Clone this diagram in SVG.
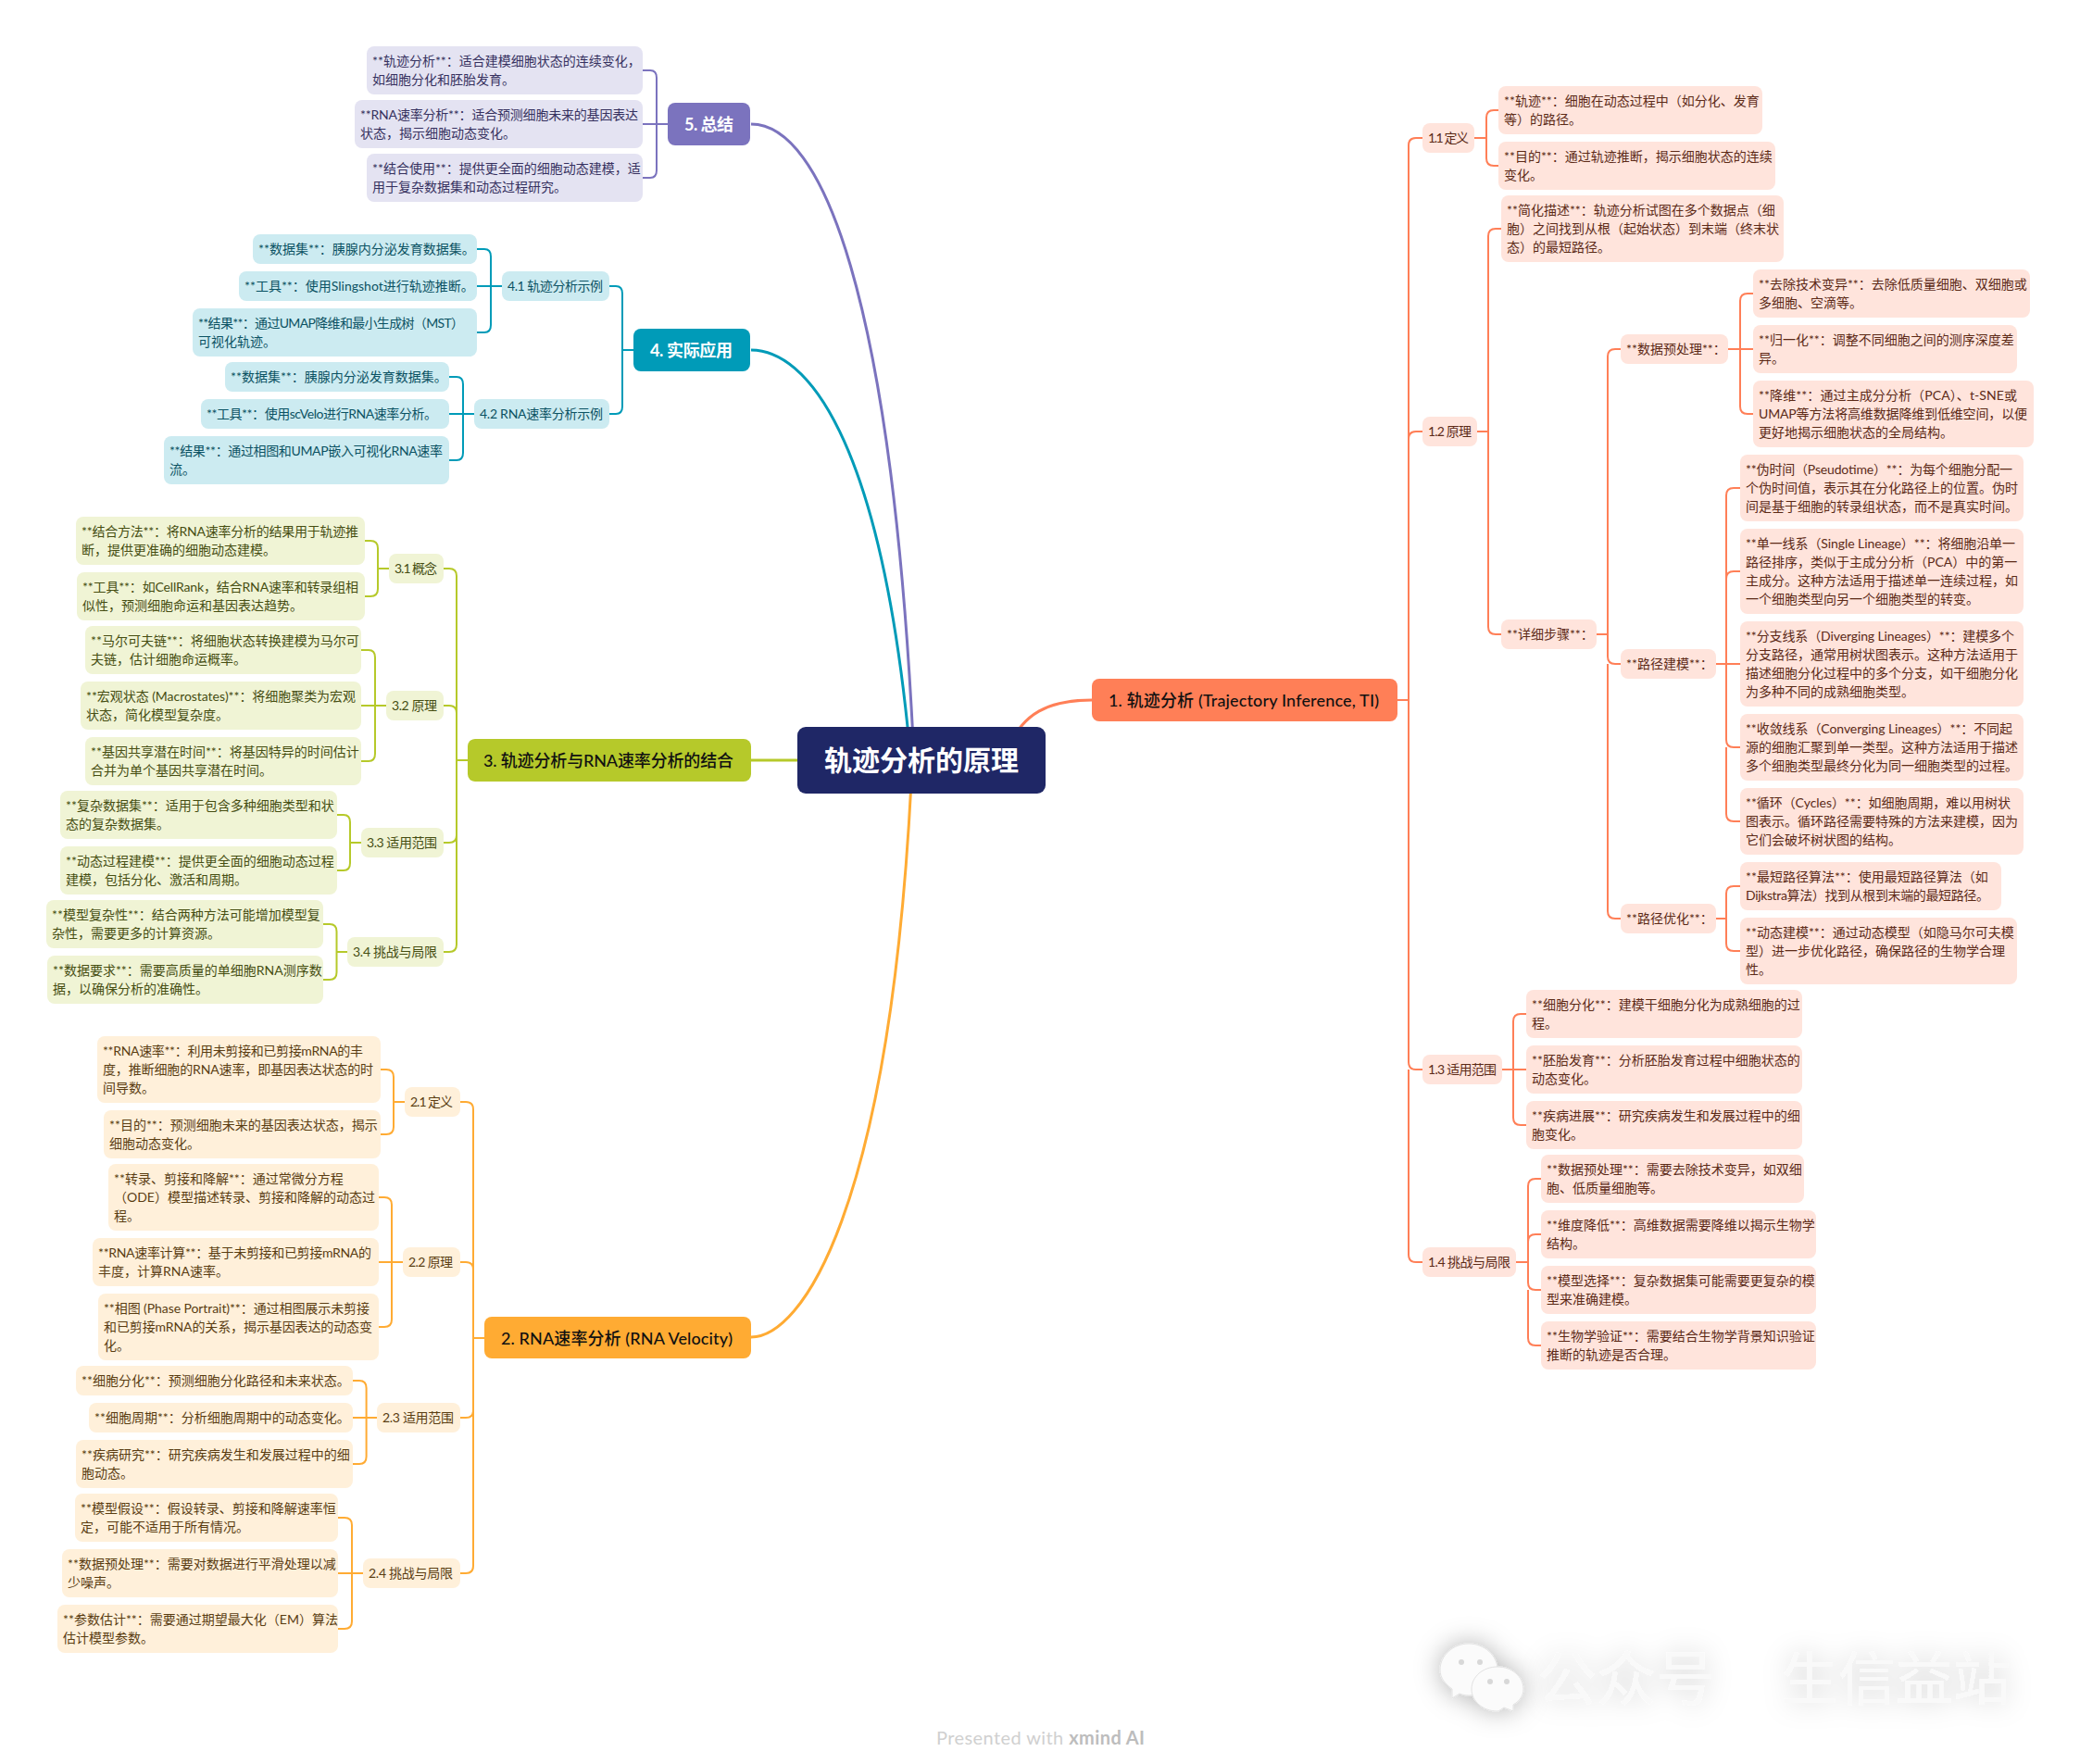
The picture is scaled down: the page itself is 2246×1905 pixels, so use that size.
<svg xmlns="http://www.w3.org/2000/svg" width="2246" height="1905" viewBox="0 0 2246 1905">
<style>
text{font-family:Lato,"Noto Sans CJK SC","Noto Sans",sans-serif;font-size:14px}
.c path{fill:none;stroke-width:2}
.c path.m{stroke-width:3}
.c1 path{stroke:#FF7F57}.c2 path{stroke:#FFAB33}.c3 path{stroke:#B6C92A}.c4 path{stroke:#009BB8}.c5 path{stroke:#7B73BE}
.n1 rect{fill:#FFE4DC}.n1 text{fill:#5C2A17}
.n2 rect{fill:#FFF0DA}.n2 text{fill:#5A3D12}
.n3 rect{fill:#F0F4D5}.n3 text{fill:#464E12}
.n4 rect{fill:#CCEBF1}.n4 text{fill:#0B5263}
.n5 rect{fill:#E4E3F2}.n5 text{fill:#36315F}
.m1 rect{fill:#FF7F57}.m2 rect{fill:#FFAB33}.m3 rect{fill:#B6C92A}.m4 rect{fill:#009BB8}.m5 rect{fill:#7B73BE}
.m1 text,.m2 text,.m3 text{fill:#111;font-size:18px;font-weight:500}
.m4 text,.m5 text{fill:#fff;font-size:18px;font-weight:700}
#root rect{fill:#1F2766}
#root text{fill:#fff;font-size:30px;font-weight:700;text-anchor:middle}
.wm{fill:#f9f9f9;font-size:64px;font-weight:400}
.pw{fill:#d0d0d0;font-size:20px}
.pw tspan{fill:#bdbdbd;font-weight:700}
</style>
<defs>
<filter id="ws" x="-30%" y="-60%" width="160%" height="220%"><feDropShadow dx="0" dy="0" stdDeviation="14" flood-color="#000" flood-opacity=".2"/></filter>
<filter id="wi" x="-60%" y="-60%" width="220%" height="220%"><feDropShadow dx="0" dy="0" stdDeviation="14" flood-color="#000" flood-opacity=".3"/></filter>
</defs>
<g id="watermark">
<g filter="url(#wi)" fill="#fbfbfb" stroke="#e2e2e2" stroke-width="1">
<path d="M1568 1834V1824C1560 1818 1555 1812 1555 1803C1555 1788 1569 1775 1586 1775C1603 1775 1617 1788 1617 1803C1617 1819 1603 1831 1586 1831C1582 1831 1579 1830 1576 1829Z"/>
<path d="M1634 1848L1624 1844C1622 1845 1619 1848 1617 1848C1601 1848 1589 1837 1589 1824C1589 1811 1601 1800 1617 1800C1633 1800 1645 1811 1645 1824C1645 1831 1641 1837 1634 1841Z"/>
<g fill="#d8d8d8" stroke="none"><circle cx="1578" cy="1795" r="3"/><circle cx="1598" cy="1795" r="3"/><circle cx="1609" cy="1816" r="3"/><circle cx="1627" cy="1816" r="3"/></g>
</g>
<g filter="url(#ws)">
<text class="wm" x="1660" y="1836">公众号</text>
<text class="wm" x="1923" y="1836" style="font-size:62px">生信益站</text>
</g>
</g>
<text class="pw" x="1011" y="1884" textLength="225">Presented with <tspan>xmind AI</tspan></text>

<g id="connectors" class="c">
<g class="c1">
<path class="m" d="M1179 756C1130 756 1105 772 1090 805"/>
<path d="M1509 756H1521M1521 756V157Q1521 149 1529 149H1536M1521 474Q1521 466 1529 466H1536M1521 756V1147Q1521 1155 1529 1155H1536M1521 1155V1355Q1521 1363 1529 1363H1536"/>
<path d="M1592 149H1605M1605 149V127Q1605 119 1613 119H1618M1605 149V171Q1605 179 1613 179H1618"/>
<path d="M1595 466H1607M1607 466V255Q1607 247 1615 247H1621M1607 466V677Q1607 685 1615 685H1621"/>
<path d="M1724 685H1736M1736 685V385Q1736 377 1744 377H1750M1736 685V709Q1736 717 1744 717H1750M1736 717V984Q1736 992 1744 992H1750"/>
<path d="M1866 377H1893M1879 377V325Q1879 317 1887 317H1893M1879 377V439Q1879 447 1887 447H1893"/>
<path d="M1853 717H1879M1864 717V535Q1864 527 1872 527H1879M1864 625Q1864 617 1872 617H1879M1864 717V799Q1864 807 1872 807H1879M1864 807V879Q1864 887 1872 887H1879"/>
<path d="M1853 992H1864M1864 992V965Q1864 957 1872 957H1879M1864 992V1019Q1864 1027 1872 1027H1879"/>
<path d="M1621.500 1155H1648M1634 1155V1103Q1634 1095 1642 1095H1648M1634 1155V1207Q1634 1215 1642 1215H1648"/>
<path d="M1636.500 1363H1650M1650 1363V1281Q1650 1273 1658 1273H1664M1650 1341Q1650 1333 1658 1333H1664M1650 1363V1385Q1650 1393 1658 1393H1664M1650 1393V1445Q1650 1453 1658 1453H1664"/>
</g>
<g class="c2">
<path class="m" d="M811 1444C865 1444 960 1310 984 845"/>
<path d="M523 1445H511M511 1445V1198Q511 1190 503 1190H497M511 1371Q511 1363 503 1363H497M511 1523Q511 1531 503 1531H497M511 1445V1691Q511 1699 503 1699H497"/>
<path d="M437 1190H425M425 1190V1163Q425 1155 417 1155H411M425 1190V1217Q425 1225 417 1225H411"/>
<path d="M435 1363H409M423 1363V1301Q423 1293 415 1293H409M423 1363V1425Q423 1433 415 1433H409"/>
<path d="M407 1531H381M395.600 1531V1499Q395.600 1491 388 1491H381M395.600 1531V1573Q395.600 1581 388 1581H381"/>
<path d="M392 1699H365M380 1699V1647Q380 1639 372 1639H365M380 1699V1751Q380 1759 372 1759H365"/>
</g>
<g class="c3">
<path class="m" d="M861 821H811"/>
<path d="M505 821H493M493 821V622Q493 614 485 614H479M493 770Q493 762 485 762H479M493 821V902Q493 910 485 910H479M493 821V1020Q493 1028 485 1028H479"/>
<path d="M420 614H408M408 614V592Q408 584 400 584H394M408 614V636Q408 644 400 644H394"/>
<path d="M417 762H390M405 762V710Q405 702 398 702H390M405 762V814Q405 822 398 822H390"/>
<path d="M390 910H378M378 910V888Q378 880 371 880H364M378 910V932Q378 940 371 940H364"/>
<path d="M375 1028H363M363.500 1028V1006Q363.500 998 356 998H349M363.500 1028V1050Q363.500 1058 356 1058H349"/>
</g>
<g class="c4">
<path class="m" d="M811 378C870 378 950 470 982 805"/>
<path d="M684 378H672M672 378V317Q672 309 665 309H658M672 378V439Q672 447 665 447H658"/>
<path d="M542 309H515M530 309V277Q530 269 523 269H515M530 309V351Q530 359 523 359H515"/>
<path d="M512 447H485M500 447V415Q500 407 493 407H485M500 447V489Q500 497 493 497H485"/>
</g>
<g class="c5">
<path class="m" d="M811 134C888 134 962 320 986 800"/>
<path d="M721 134H694M709 134V84Q709 76 702 76H694M709 134V184Q709 192 702 192H694"/>
</g>
</g>

<g id="root"><rect x="861" y="785" width="268" height="72" rx="9"/><text x="995" y="832">轨迹分析的原理</text></g>

<g id="n1" class="m1"><rect x="1179" y="733" width="330" height="46" rx="8"/><text x="1197" y="763" textLength="292">1. 轨迹分析 (Trajectory Inference, TI)</text></g>
<g class="n1">
<g id="n1-1"><rect x="1536" y="133" width="56" height="32" rx="8"/><text x="1542" y="154" textLength="44">1.1 定义</text></g>
<g id="n1-1-1"><rect x="1618" y="93" width="285" height="52" rx="8"/><text x="1624" y="114">**轨迹**：细胞在动态过程中（如分化、发育</text><text x="1624" y="134">等）的路径。</text></g>
<g id="n1-1-2"><rect x="1618" y="153" width="299" height="52" rx="8"/><text x="1624" y="174">**目的**：通过轨迹推断，揭示细胞状态的连续</text><text x="1624" y="194">变化。</text></g>
<g id="n1-2"><rect x="1536" y="450" width="59" height="32" rx="8"/><text x="1542" y="471" textLength="47">1.2 原理</text></g>
<g id="n1-2-1"><rect x="1621" y="211" width="305" height="72" rx="8"/><text x="1627" y="232">**简化描述**：轨迹分析试图在多个数据点（细</text><text x="1627" y="252">胞）之间找到从根（起始状态）到末端（终末状</text><text x="1627" y="272">态）的最短路径。</text></g>
<g id="n1-2-2"><rect x="1621" y="669" width="103" height="32" rx="8"/><text x="1627" y="690">**详细步骤**：</text></g>
<g id="n1-2-2-1"><rect x="1750" y="361" width="116" height="32" rx="8"/><text x="1756" y="382">**数据预处理**：</text></g>
<g id="n1-2-2-1-1"><rect x="1893" y="291" width="299" height="52" rx="8"/><text x="1899" y="312">**去除技术变异**：去除低质量细胞、双细胞或</text><text x="1899" y="332">多细胞、空滴等。</text></g>
<g id="n1-2-2-1-2"><rect x="1893" y="351" width="285" height="52" rx="8"/><text x="1899" y="372">**归一化**：调整不同细胞之间的测序深度差</text><text x="1899" y="392">异。</text></g>
<g id="n1-2-2-1-3"><rect x="1893" y="411" width="303" height="72" rx="8"/><text x="1899" y="432" textLength="279">**降维**：通过主成分分析（PCA）、t-SNE或</text><text x="1899" y="452" textLength="290">UMAP等方法将高维数据降维到低维空间，以便</text><text x="1899" y="472">更好地揭示细胞状态的全局结构。</text></g>
<g id="n1-2-2-2"><rect x="1750" y="701" width="103" height="32" rx="8"/><text x="1756" y="722">**路径建模**：</text></g>
<g id="n1-2-2-2-1"><rect x="1879" y="491" width="306" height="72" rx="8"/><text x="1885" y="512" textLength="288">**伪时间（Pseudotime）**：为每个细胞分配一</text><text x="1885" y="532">个伪时间值，表示其在分化路径上的位置。伪时</text><text x="1885" y="552">间是基于细胞的转录组状态，而不是真实时间。</text></g>
<g id="n1-2-2-2-2"><rect x="1879" y="571" width="306" height="92" rx="8"/><text x="1885" y="592" textLength="291">**单一线系（Single Lineage）**：将细胞沿单一</text><text x="1885" y="612">路径排序，类似于主成分分析（PCA）中的第一</text><text x="1885" y="632">主成分。这种方法适用于描述单一连续过程，如</text><text x="1885" y="652">一个细胞类型向另一个细胞类型的转变。</text></g>
<g id="n1-2-2-2-3"><rect x="1879" y="671" width="306" height="92" rx="8"/><text x="1885" y="692" textLength="290">**分支线系（Diverging Lineages）**：建模多个</text><text x="1885" y="712">分支路径，通常用树状图表示。这种方法适用于</text><text x="1885" y="732">描述细胞分化过程中的多个分支，如干细胞分化</text><text x="1885" y="752">为多种不同的成熟细胞类型。</text></g>
<g id="n1-2-2-2-4"><rect x="1879" y="771" width="306" height="72" rx="8"/><text x="1885" y="792" textLength="288">**收敛线系（Converging Lineages）**：不同起</text><text x="1885" y="812">源的细胞汇聚到单一类型。这种方法适用于描述</text><text x="1885" y="832">多个细胞类型最终分化为同一细胞类型的过程。</text></g>
<g id="n1-2-2-2-5"><rect x="1879" y="851" width="306" height="72" rx="8"/><text x="1885" y="872" textLength="286">**循环（Cycles）**：如细胞周期，难以用树状</text><text x="1885" y="892">图表示。循环路径需要特殊的方法来建模，因为</text><text x="1885" y="912">它们会破坏树状图的结构。</text></g>
<g id="n1-2-2-3"><rect x="1750" y="976" width="103" height="32" rx="8"/><text x="1756" y="997">**路径优化**：</text></g>
<g id="n1-2-2-3-1"><rect x="1879" y="931" width="282" height="52" rx="8"/><text x="1885" y="952">**最短路径算法**：使用最短路径算法（如</text><text x="1885" y="972" textLength="263">Dijkstra算法）找到从根到末端的最短路径。</text></g>
<g id="n1-2-2-3-2"><rect x="1879" y="991" width="299" height="72" rx="8"/><text x="1885" y="1012">**动态建模**：通过动态模型（如隐马尔可夫模</text><text x="1885" y="1032">型）进一步优化路径，确保路径的生物学合理</text><text x="1885" y="1052">性。</text></g>
<g id="n1-3"><rect x="1536" y="1139" width="86" height="32" rx="8"/><text x="1542" y="1160" textLength="74">1.3 适用范围</text></g>
<g id="n1-3-1"><rect x="1648" y="1069" width="298" height="52" rx="8"/><text x="1654" y="1090">**细胞分化**：建模干细胞分化为成熟细胞的过</text><text x="1654" y="1110">程。</text></g>
<g id="n1-3-2"><rect x="1648" y="1129" width="298" height="52" rx="8"/><text x="1654" y="1150">**胚胎发育**：分析胚胎发育过程中细胞状态的</text><text x="1654" y="1170">动态变化。</text></g>
<g id="n1-3-3"><rect x="1648" y="1189" width="298" height="52" rx="8"/><text x="1654" y="1210">**疾病进展**：研究疾病发生和发展过程中的细</text><text x="1654" y="1230">胞变化。</text></g>
<g id="n1-4"><rect x="1536" y="1347" width="101" height="32" rx="8"/><text x="1542" y="1368" textLength="89">1.4 挑战与局限</text></g>
<g id="n1-4-1"><rect x="1664" y="1247" width="284" height="52" rx="8"/><text x="1670" y="1268">**数据预处理**：需要去除技术变异，如双细</text><text x="1670" y="1288">胞、低质量细胞等。</text></g>
<g id="n1-4-2"><rect x="1664" y="1307" width="297" height="52" rx="8"/><text x="1670" y="1328">**维度降低**：高维数据需要降维以揭示生物学</text><text x="1670" y="1348">结构。</text></g>
<g id="n1-4-3"><rect x="1664" y="1367" width="297" height="52" rx="8"/><text x="1670" y="1388">**模型选择**：复杂数据集可能需要更复杂的模</text><text x="1670" y="1408">型来准确建模。</text></g>
<g id="n1-4-4"><rect x="1664" y="1427" width="297" height="52" rx="8"/><text x="1670" y="1448">**生物学验证**：需要结合生物学背景知识验证</text><text x="1670" y="1468">推断的轨迹是否合理。</text></g>
</g>

<g id="n2" class="m2"><rect x="523" y="1422" width="288" height="45" rx="8"/><text x="541" y="1452" textLength="250">2. RNA速率分析 (RNA Velocity)</text></g>
<g class="n2">
<g id="n2-1"><rect x="437" y="1174" width="60" height="32" rx="8"/><text x="443" y="1195" textLength="46">2.1 定义</text></g>
<g id="n2-1-1"><rect x="105" y="1119" width="306" height="72" rx="8"/><text x="111" y="1140" textLength="281">**RNA速率**：利用未剪接和已剪接mRNA的丰</text><text x="111" y="1160" textLength="292">度，推断细胞的RNA速率，即基因表达状态的时</text><text x="111" y="1180">间导数。</text></g>
<g id="n2-1-2"><rect x="112" y="1199" width="299" height="52" rx="8"/><text x="118" y="1220">**目的**：预测细胞未来的基因表达状态，揭示</text><text x="118" y="1240">细胞动态变化。</text></g>
<g id="n2-2"><rect x="435" y="1347" width="62" height="32" rx="8"/><text x="441" y="1368" textLength="48">2.2 原理</text></g>
<g id="n2-2-1"><rect x="117" y="1257" width="292" height="72" rx="8"/><text x="123" y="1278">**转录、剪接和降解**：通过常微分方程</text><text x="123" y="1298">（ODE）模型描述转录、剪接和降解的动态过</text><text x="123" y="1318">程。</text></g>
<g id="n2-2-2"><rect x="100" y="1337" width="309" height="52" rx="8"/><text x="106" y="1358" textLength="295">**RNA速率计算**：基于未剪接和已剪接mRNA的</text><text x="106" y="1378">丰度，计算RNA速率。</text></g>
<g id="n2-2-3"><rect x="106" y="1397" width="303" height="72" rx="8"/><text x="112" y="1418" textLength="287">**相图 (Phase Portrait)**：通过相图展示未剪接</text><text x="112" y="1438" textLength="290">和已剪接mRNA的关系，揭示基因表达的动态变</text><text x="112" y="1458">化。</text></g>
<g id="n2-3"><rect x="407" y="1515" width="90" height="32" rx="8"/><text x="413" y="1536" textLength="77">2.3 适用范围</text></g>
<g id="n2-3-1"><rect x="82" y="1475" width="299" height="32" rx="8"/><text x="88" y="1496">**细胞分化**：预测细胞分化路径和未来状态。</text></g>
<g id="n2-3-2"><rect x="96" y="1515" width="285" height="32" rx="8"/><text x="102" y="1536">**细胞周期**：分析细胞周期中的动态变化。</text></g>
<g id="n2-3-3"><rect x="82" y="1555" width="299" height="52" rx="8"/><text x="88" y="1576">**疾病研究**：研究疾病发生和发展过程中的细</text><text x="88" y="1596">胞动态。</text></g>
<g id="n2-4"><rect x="392" y="1683" width="105" height="32" rx="8"/><text x="398" y="1704" textLength="91">2.4 挑战与局限</text></g>
<g id="n2-4-1"><rect x="81" y="1613" width="284" height="52" rx="8"/><text x="87" y="1634">**模型假设**：假设转录、剪接和降解速率恒</text><text x="87" y="1654">定，可能不适用于所有情况。</text></g>
<g id="n2-4-2"><rect x="67" y="1673" width="298" height="52" rx="8"/><text x="73" y="1694">**数据预处理**：需要对数据进行平滑处理以减</text><text x="73" y="1714">少噪声。</text></g>
<g id="n2-4-3"><rect x="62" y="1733" width="303" height="52" rx="8"/><text x="68" y="1754">**参数估计**：需要通过期望最大化（EM）算法</text><text x="68" y="1774">估计模型参数。</text></g>
</g>

<g id="n3" class="m3"><rect x="505" y="798" width="306" height="46" rx="8"/><text x="522" y="828" textLength="270">3. 轨迹分析与RNA速率分析的结合</text></g>
<g class="n3">
<g id="n3-1"><rect x="420" y="598" width="59" height="32" rx="8"/><text x="426" y="619" textLength="46">3.1 概念</text></g>
<g id="n3-1-1"><rect x="82" y="558" width="312" height="52" rx="8"/><text x="88" y="579" textLength="299">**结合方法**：将RNA速率分析的结果用于轨迹推</text><text x="88" y="599">断，提供更准确的细胞动态建模。</text></g>
<g id="n3-1-2"><rect x="83" y="618" width="311" height="52" rx="8"/><text x="89" y="639" textLength="298">**工具**：如CellRank，结合RNA速率和转录组相</text><text x="89" y="659">似性，预测细胞命运和基因表达趋势。</text></g>
<g id="n3-2"><rect x="417" y="746" width="62" height="32" rx="8"/><text x="423" y="767" textLength="49">3.2 原理</text></g>
<g id="n3-2-1"><rect x="92" y="676" width="298" height="52" rx="8"/><text x="98" y="697">**马尔可夫链**：将细胞状态转换建模为马尔可</text><text x="98" y="717">夫链，估计细胞命运概率。</text></g>
<g id="n3-2-2"><rect x="87" y="736" width="303" height="52" rx="8"/><text x="93" y="757" textLength="291">**宏观状态 (Macrostates)**：将细胞聚类为宏观</text><text x="93" y="777">状态，简化模型复杂度。</text></g>
<g id="n3-2-3"><rect x="92" y="796" width="298" height="52" rx="8"/><text x="98" y="817">**基因共享潜在时间**：将基因特异的时间估计</text><text x="98" y="837">合并为单个基因共享潜在时间。</text></g>
<g id="n3-3"><rect x="390" y="894" width="89" height="32" rx="8"/><text x="396" y="915" textLength="76">3.3 适用范围</text></g>
<g id="n3-3-1"><rect x="65" y="854" width="299" height="52" rx="8"/><text x="71" y="875">**复杂数据集**：适用于包含多种细胞类型和状</text><text x="71" y="895">态的复杂数据集。</text></g>
<g id="n3-3-2"><rect x="65" y="914" width="299" height="52" rx="8"/><text x="71" y="935">**动态过程建模**：提供更全面的细胞动态过程</text><text x="71" y="955">建模，包括分化、激活和周期。</text></g>
<g id="n3-4"><rect x="375" y="1012" width="104" height="32" rx="8"/><text x="381" y="1033" textLength="91">3.4 挑战与局限</text></g>
<g id="n3-4-1"><rect x="50" y="972" width="299" height="52" rx="8"/><text x="56" y="993">**模型复杂性**：结合两种方法可能增加模型复</text><text x="56" y="1013">杂性，需要更多的计算资源。</text></g>
<g id="n3-4-2"><rect x="51" y="1032" width="298" height="52" rx="8"/><text x="57" y="1053">**数据要求**：需要高质量的单细胞RNA测序数</text><text x="57" y="1073">据，以确保分析的准确性。</text></g>
</g>

<g id="n4" class="m4"><rect x="684" y="355" width="126" height="46" rx="8"/><text x="702" y="385" textLength="89">4. 实际应用</text></g>
<g class="n4">
<g id="n4-1"><rect x="542" y="293" width="116" height="32" rx="8"/><text x="548" y="314" textLength="103">4.1 轨迹分析示例</text></g>
<g id="n4-1-1"><rect x="273" y="253" width="242" height="32" rx="8"/><text x="279" y="274">**数据集**：胰腺内分泌发育数据集。</text></g>
<g id="n4-1-2"><rect x="258" y="293" width="257" height="32" rx="8"/><text x="264" y="314">**工具**：使用Slingshot进行轨迹推断。</text></g>
<g id="n4-1-3"><rect x="208" y="333" width="307" height="52" rx="8"/><text x="214" y="354" textLength="287">**结果**：通过UMAP降维和最小生成树（MST）</text><text x="214" y="374">可视化轨迹。</text></g>
<g id="n4-2"><rect x="512" y="431" width="146" height="32" rx="8"/><text x="518" y="452" textLength="133">4.2 RNA速率分析示例</text></g>
<g id="n4-2-1"><rect x="243" y="391" width="242" height="32" rx="8"/><text x="249" y="412">**数据集**：胰腺内分泌发育数据集。</text></g>
<g id="n4-2-2"><rect x="217" y="431" width="268" height="32" rx="8"/><text x="223" y="452" textLength="249">**工具**：使用scVelo进行RNA速率分析。</text></g>
<g id="n4-2-3"><rect x="177" y="471" width="308" height="52" rx="8"/><text x="183" y="492" textLength="295">**结果**：通过相图和UMAP嵌入可视化RNA速率</text><text x="183" y="512">流。</text></g>
</g>

<g id="n5" class="m5"><rect x="721" y="111" width="89" height="46" rx="8"/><text x="739" y="141" textLength="53">5. 总结</text></g>
<g class="n5">
<g id="n5-1"><rect x="396" y="50" width="298" height="52" rx="8"/><text x="402" y="71">**轨迹分析**：适合建模细胞状态的连续变化，</text><text x="402" y="91">如细胞分化和胚胎发育。</text></g>
<g id="n5-2"><rect x="383" y="108" width="311" height="52" rx="8"/><text x="389" y="129" textLength="300">**RNA速率分析**：适合预测细胞未来的基因表达</text><text x="389" y="149">状态，揭示细胞动态变化。</text></g>
<g id="n5-3"><rect x="396" y="166" width="298" height="52" rx="8"/><text x="402" y="187">**结合使用**：提供更全面的细胞动态建模，适</text><text x="402" y="207">用于复杂数据集和动态过程研究。</text></g>
</g>
</svg>
